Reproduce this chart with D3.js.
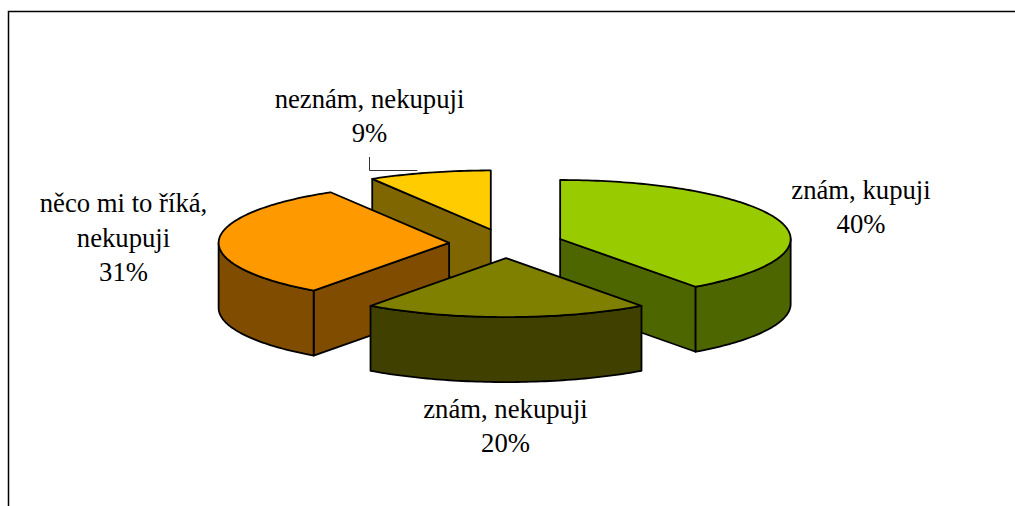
<!DOCTYPE html>
<html>
<head>
<meta charset="utf-8">
<script src="https://cdn.jsdelivr.net/npm/d3@7"></script>
<style>
html,body{margin:0;padding:0;background:#fff;overflow:hidden}
svg{display:block}
text{font-family:"Liberation Serif","Times New Roman",serif;font-size:26.7px;fill:#000}
</style>
</head>
<body>
<script>
const categories = ["znám, kupuji", "znám, nekupuji", "něco mi to říká, nekupuji", "neznám, nekupuji"];
const values = [40, 20, 31.4, 8.6];
const percentLabels = ["40%", "20%", "31%", "9%"];
const topColors = ["#99CC00", "#808000", "#FF9900", "#FFCC00"];
const wallColors = ["#4D6600", "#404000", "#804D00", "#806600"];
const labelLines = [["znám, kupuji"], ["znám, nekupuji"], ["něco mi to říká,", "nekupuji"], ["neznám, nekupuji"]];
const labelAnchors = [[861, 198.5], [505.5, 417.5], [123.5, 212], [369.5, 107.5]];
const paintOrder = [3, 2, 0, 1];

const W = 1015, H = 506;
const cx = 506, cy = 243.5, rx = 230.5, ry = 59, depth = 65, explode = 0.247;
const lineH = 34.5;

const svg = d3.select("body").append("svg").attr("width", W).attr("height", H);

// chart frame: only top and left edges are inside the crop
svg.append("path").attr("d", `M8.5,${H}V11.5H${W}`).attr("fill", "none").attr("stroke", "#000").attr("stroke-width", 1.5);

const x = d3.scaleLinear().domain([-1, 1]).range([cx - rx, cx + rx]);
const y = d3.scaleLinear().domain([-1, 1]).range([cy - ry, cy + ry]);
const pie = d3.pie().sort(null).value(d => d);
const arcs = pie(values);
const line = d3.line();

function project(a, r, off, dz) {
  return [x(r * Math.sin(a) + off[0]), y(-r * Math.cos(a) + off[1]) + dz];
}
function sample(a0, a1) {
  const n = Math.max(2, Math.ceil(Math.abs(a1 - a0) / 0.02));
  return d3.range(n + 1).map(i => a0 + (a1 - a0) * i / n);
}

const g = svg.append("g");
paintOrder.forEach(i => {
  const s = arcs[i];
  const mid = (s.startAngle + s.endAngle) / 2;
  const off = [explode * Math.sin(mid), -explode * Math.cos(mid)];
  const apex = dz => project(0, 0, off, dz);
  const style = (p, fill) => p.attr("fill", fill).attr("stroke", "#000").attr("stroke-width", 1.8).attr("stroke-linejoin", "round");

  // cut faces that turn toward the viewer
  const cut = a => {
    const pts = [apex(0), project(a, 1, off, 0), project(a, 1, off, depth), apex(depth)];
    style(g.append("path").attr("d", line(pts) + "Z"), wallColors[i]);
  };
  if (Math.sin(s.startAngle) < -1e-6) cut(s.startAngle);
  if (Math.sin(s.endAngle) > 1e-6) cut(s.endAngle);

  // outer rim wall, front half only
  const w0 = Math.max(s.startAngle, Math.PI / 2), w1 = Math.min(s.endAngle, Math.PI * 1.5);
  if (w1 > w0) {
    const as = sample(w0, w1);
    const pts = as.map(a => project(a, 1, off, 0)).concat(as.slice().reverse().map(a => project(a, 1, off, depth)));
    style(g.append("path").attr("d", line(pts) + "Z"), wallColors[i]);
  }

  // top face
  const top = [apex(0)].concat(sample(s.startAngle, s.endAngle).map(a => project(a, 1, off, 0)));
  style(g.append("path").attr("d", line(top) + "Z"), topColors[i]);
});

// leader line of the smallest slice
const s4 = arcs[3];
const m4 = (s4.startAngle + s4.endAngle) / 2;
const off4 = [explode * Math.sin(m4), -explode * Math.cos(m4)];
const rimMid = project(m4, 1, off4, 0);
svg.append("path")
  .attr("d", line([[369.5, 157], [369.5, 170.5], [rimMid[0] - 12, 170.5]]))
  .attr("fill", "none").attr("stroke", "#333").attr("stroke-width", 1);

// labels
categories.forEach((c, i) => {
  const t = svg.append("text").attr("text-anchor", "middle");
  labelLines[i].concat([percentLabels[i]]).forEach((l, k) => {
    t.append("tspan").attr("x", labelAnchors[i][0]).attr("y", labelAnchors[i][1] + k * lineH).text(l);
  });
});
</script>
</body>
</html>
